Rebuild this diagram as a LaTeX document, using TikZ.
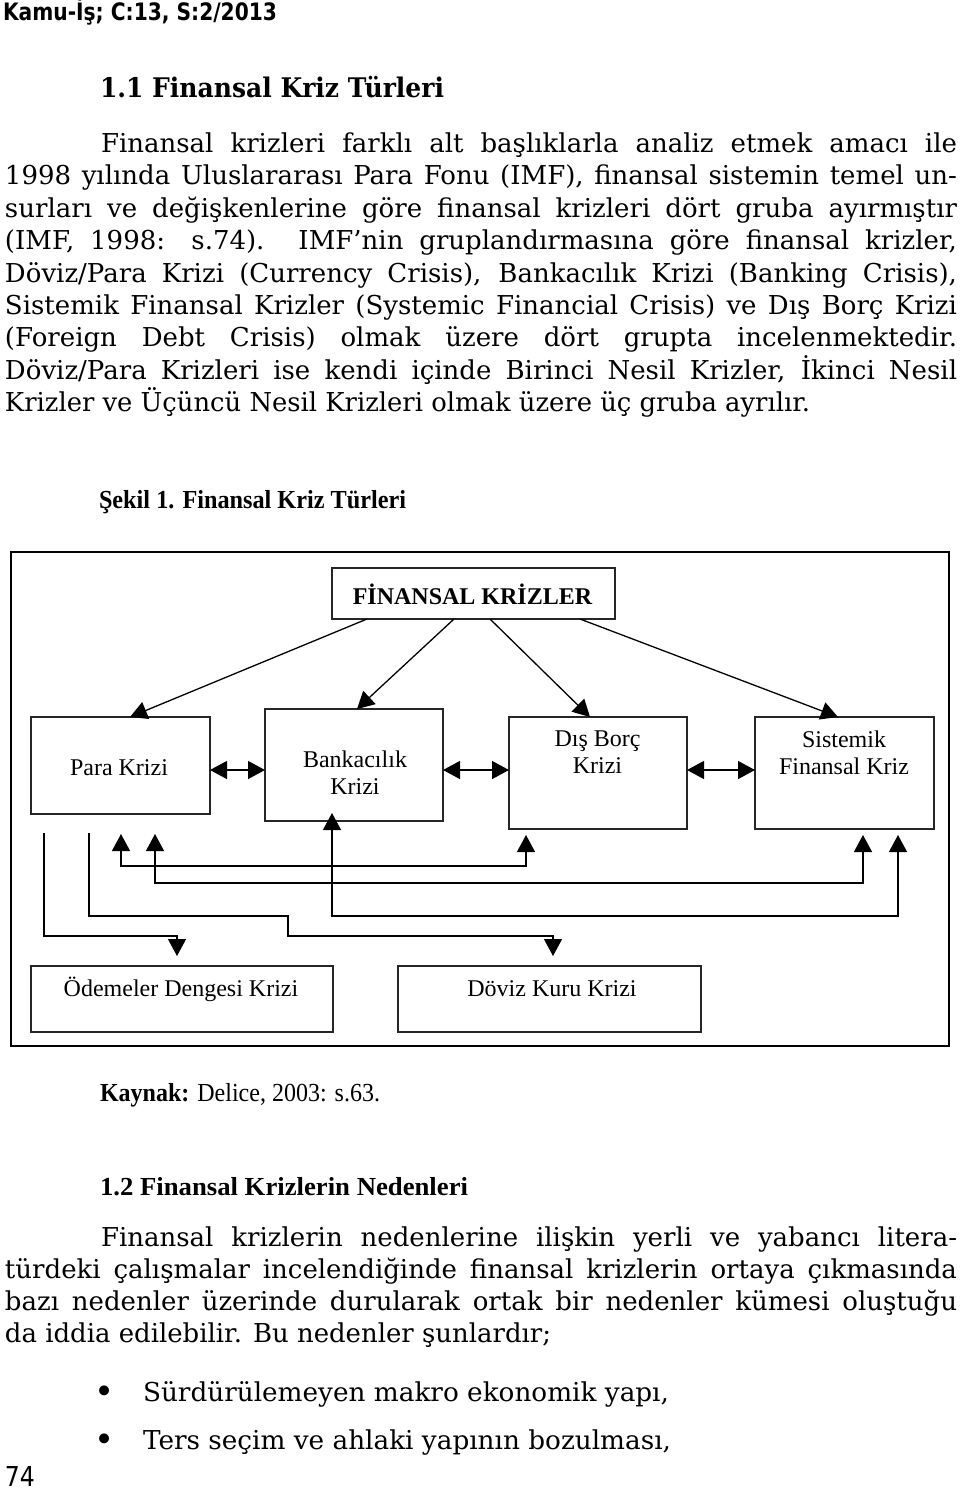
\documentclass[tikz,border=0pt]{standalone}
\usepackage{graphicx}
\usepackage{fontspec}
\setmainfont{DejaVu Serif}
\newfontfamily\timesf{Liberation Serif}
\newfontfamily\headf{DejaVu Sans}
\usetikzlibrary{positioning}
\usetikzlibrary{arrows.meta,calc}

% justified line: stretch the spaces, or squeeze if too long
\newlength\natw
\newcommand\jline[2]{\settowidth\natw{#2}\ifdim\natw>#1\relax\resizebox{#1}{\height}{#2}\else\makebox[#1][s]{#2}\fi}
\newcommand\fitw[2]{\resizebox{#1}{\height}{#2}}

\tikzset{
    %Define standard arrow tip
    >={Triangle[width=18pt,length=17pt]},
    % Define arrow style
    pil/.style={
           ->,
           line width=1.3pt},
    box/.style={draw=black!85, line width=1.5pt, inner sep=0pt},
    lbl/.style={font=\timesf\fontsize{24}{27}\selectfont, align=center, inner sep=0pt},
    body/.style={anchor=base west, inner sep=0pt, font=\fontsize{26}{32}\selectfont},
    head/.style={anchor=base west, inner sep=0pt}
}

\begin{document}
\begin{tikzpicture}[x=1pt, y=-1pt, outer sep = 0pt]

\fill [white] (0,0) rectangle (960,1492);
\useasboundingbox (0,0) rectangle (960,1492);

%%%%%%%%%%%%%%%%%%%%%%%%%%%%%%%%%

% page head and first section
\node [head, font=\headf\bfseries\fontsize{24}{28}\selectfont] (kamu) at (3,20.5) {\fitw{274pt}{Kamu-İş; C:13, S:2/2013}};
\node [head, font=\bfseries\fontsize{27}{30}\selectfont] (sec11) at (100,97.7) {\fitw{344pt}{1.1 Finansal Kriz Türleri}};

\node [body] (a1) at (101,152.5) {\jline{856pt}{Finansal krizleri farklı alt başlıklarla analiz etmek amacı ile}};
\node [body] (a2) at (5,184.9) {\jline{952pt}{1998 yılında Uluslararası Para Fonu (IMF), finansal sistemin temel un-}};
\node [body] (a3) at (5,217.3) {\jline{952pt}{surları ve değişkenlerine göre finansal krizleri dört gruba ayırmıştır}};
\node [body] (a4) at (5,249.7) {\jline{952pt}{(IMF, 1998: s.74). IMF’nin gruplandırmasına göre finansal krizler,}};
\node [body] (a5) at (5,282.1) {\jline{952pt}{Döviz/Para Krizi (Currency Crisis), Bankacılık Krizi (Banking Crisis),}};
\node [body] (a6) at (5,314.5) {\jline{952pt}{Sistemik Finansal Krizler (Systemic Financial Crisis) ve Dış Borç Krizi}};
\node [body] (a7) at (5,346.9) {\jline{952pt}{(Foreign Debt Crisis) olmak üzere dört grupta incelenmektedir.}};
\node [body] (a8) at (5,379.3) {\jline{952pt}{Döviz/Para Krizleri ise kendi içinde Birinci Nesil Krizler, İkinci Nesil}};
\node [body] (a9) at (5,411.7) {\fitw{805pt}{Krizler ve Üçüncü Nesil Krizleri olmak üzere üç gruba ayrılır.}};

% figure caption
\node [head, font=\timesf\bfseries\fontsize{26}{30}\selectfont] (sekil) at (99,508) {\fitw{307pt}{Şekil 1. Finansal Kriz Türleri}};

% figure frame
\draw [line width=2pt] (11,552) rectangle (949,1046);

% boxes
\node [box, minimum width=283pt, minimum height=51pt] (fk) at (473.5,593.5) {};
\node [box, minimum width=179pt, minimum height=97pt] (para) at (120.5,765.5) {};
\node [box, minimum width=178pt, minimum height=112pt] (bank) at (354,765) {};
\node [box, minimum width=178pt, minimum height=112pt] (dis) at (598,773) {};
\node [box, minimum width=179pt, minimum height=112pt] (sis) at (844.5,773) {};
\node [box, minimum width=302pt, minimum height=66pt] (odeme) at (182,999) {};
\node [box, minimum width=303pt, minimum height=66pt] (doviz) at (549.5,999) {};

% box texts
\node [lbl] (fkT) at (472.5,594) {\bfseries FİNANSAL KRİZLER};
\node [lbl] (paraT) at (119,768) {Para Krizi};
\node [lbl] (bankT) at (355,772.5) {Bankacılık\\Krizi};
\node [lbl] (disT) at (597.5,752.5) {Dış Borç\\Krizi};
\node [lbl] (sisT) at (844,752.5) {Sistemik\\Finansal Kriz};
\node [lbl] (odemeT) at (181,989) {Ödemeler Dengesi Krizi};
\node [lbl] (dovizT) at (552,989) {Döviz Kuru Krizi};

% arrows from the top box
\draw [pil] ([xshift=-106.5pt]fk.south) -- ([xshift=9.5pt]para.north);
\draw [pil] ([xshift=-19.5pt]fk.south) -- ([xshift=3pt]bank.north);
\draw [pil] ([xshift=16.5pt]fk.south) -- ([xshift=-8pt]dis.north);
\draw [pil] ([xshift=106.5pt]fk.south) -- ([xshift=-6.5pt]sis.north);

% arrows between neighbours
\coordinate (midrow) at (0,770);
\draw [pil, <->] (para.east |- midrow) -- (bank.west |- midrow);
\draw [pil, <->] (bank.east |- midrow) -- (dis.west |- midrow);
\draw [pil, <->] (dis.east |- midrow) -- (sis.west |- midrow);

% rows of the lower connectors
\coordinate (lnA) at (0,866);
\coordinate (lnB) at (0,883);
\coordinate (lnC) at (0,916);
\coordinate (lnD) at (0,936);
\coordinate (kink) at (288,916);

% feet of the connectors
\coordinate (pA) at ([xshift=0.5pt]para.south);
\coordinate (pB) at ([xshift=34.5pt]para.south);
\coordinate (pD) at ([xshift=-76.5pt]para.south);
\coordinate (pE) at ([xshift=-31.5pt]para.south);
\coordinate (bC) at ([xshift=-22pt]bank.south);
\coordinate (dA) at ([xshift=-72pt]dis.south);
\coordinate (sB) at ([xshift=18.5pt]sis.south);
\coordinate (sC) at ([xshift=53.5pt]sis.south);
\coordinate (oD) at ([xshift=-5pt]odeme.north);
\coordinate (vD) at ([xshift=3.5pt]doviz.north);

\draw [pil, <->, shorten <=20pt, shorten >=6pt] (pA) -- (pA |- lnA) -- (dA |- lnA) -- (dA);
\draw [pil, <->, shorten <=20pt, shorten >=6pt] (pB) -- (pB |- lnB) -- (sB |- lnB) -- (sB);
\draw [pil, <->, shorten <=-8pt, shorten >=6pt] (bC) -- (bC |- lnC) -- (sC |- lnC) -- (sC);
\draw [pil, shorten <=19pt, shorten >=10pt] (pD) -- (pD |- lnD) -- (oD |- lnD) -- (oD);
\draw [pil, shorten <=19pt, shorten >=10pt] (pE) -- (pE |- kink) -- (kink) -- (kink |- lnD) -- (vD |- lnD) -- (vD);

% source and second section
\node [head, font=\timesf\fontsize{26}{30}\selectfont] (kaynak) at (100,1101) {\fitw{280pt}{\textbf{Kaynak:} Delice, 2003: s.63.}};
\node [head, font=\timesf\bfseries\fontsize{26}{30}\selectfont] (sec12) at (100,1195) {\fitw{368pt}{1.2 Finansal Krizlerin Nedenleri}};

\node [body] (b1) at (101,1246) {\jline{856pt}{Finansal krizlerin nedenlerine ilişkin yerli ve yabancı litera-}};
\node [body] (b2) at (5,1278) {\jline{952pt}{türdeki çalışmalar incelendiğinde finansal krizlerin ortaya çıkmasında}};
\node [body] (b3) at (5,1310) {\jline{952pt}{bazı nedenler üzerinde durularak ortak bir nedenler kümesi oluştuğu}};
\node [body] (b4) at (5,1342) {\fitw{546pt}{da iddia edilebilir. Bu nedenler şunlardır;}};

% bullet list
\node [body, font=\fontsize{34}{34}\selectfont] (dot1) at (94,1403) {•};
\node [body] (item1) at (143,1401) {\fitw{526pt}{Sürdürülemeyen makro ekonomik yapı,}};
\node [body, font=\fontsize{34}{34}\selectfont] (dot2) at (94,1451) {•};
\node [body] (item2) at (143,1449) {\fitw{528pt}{Ters seçim ve ahlaki yapının bozulması,}};

% page number
\node [head, font=\headf\fontsize{26}{30}\selectfont] (pageno) at (5,1486) {\resizebox{30pt}{20pt}{74}};

\end{tikzpicture}
\end{document}
